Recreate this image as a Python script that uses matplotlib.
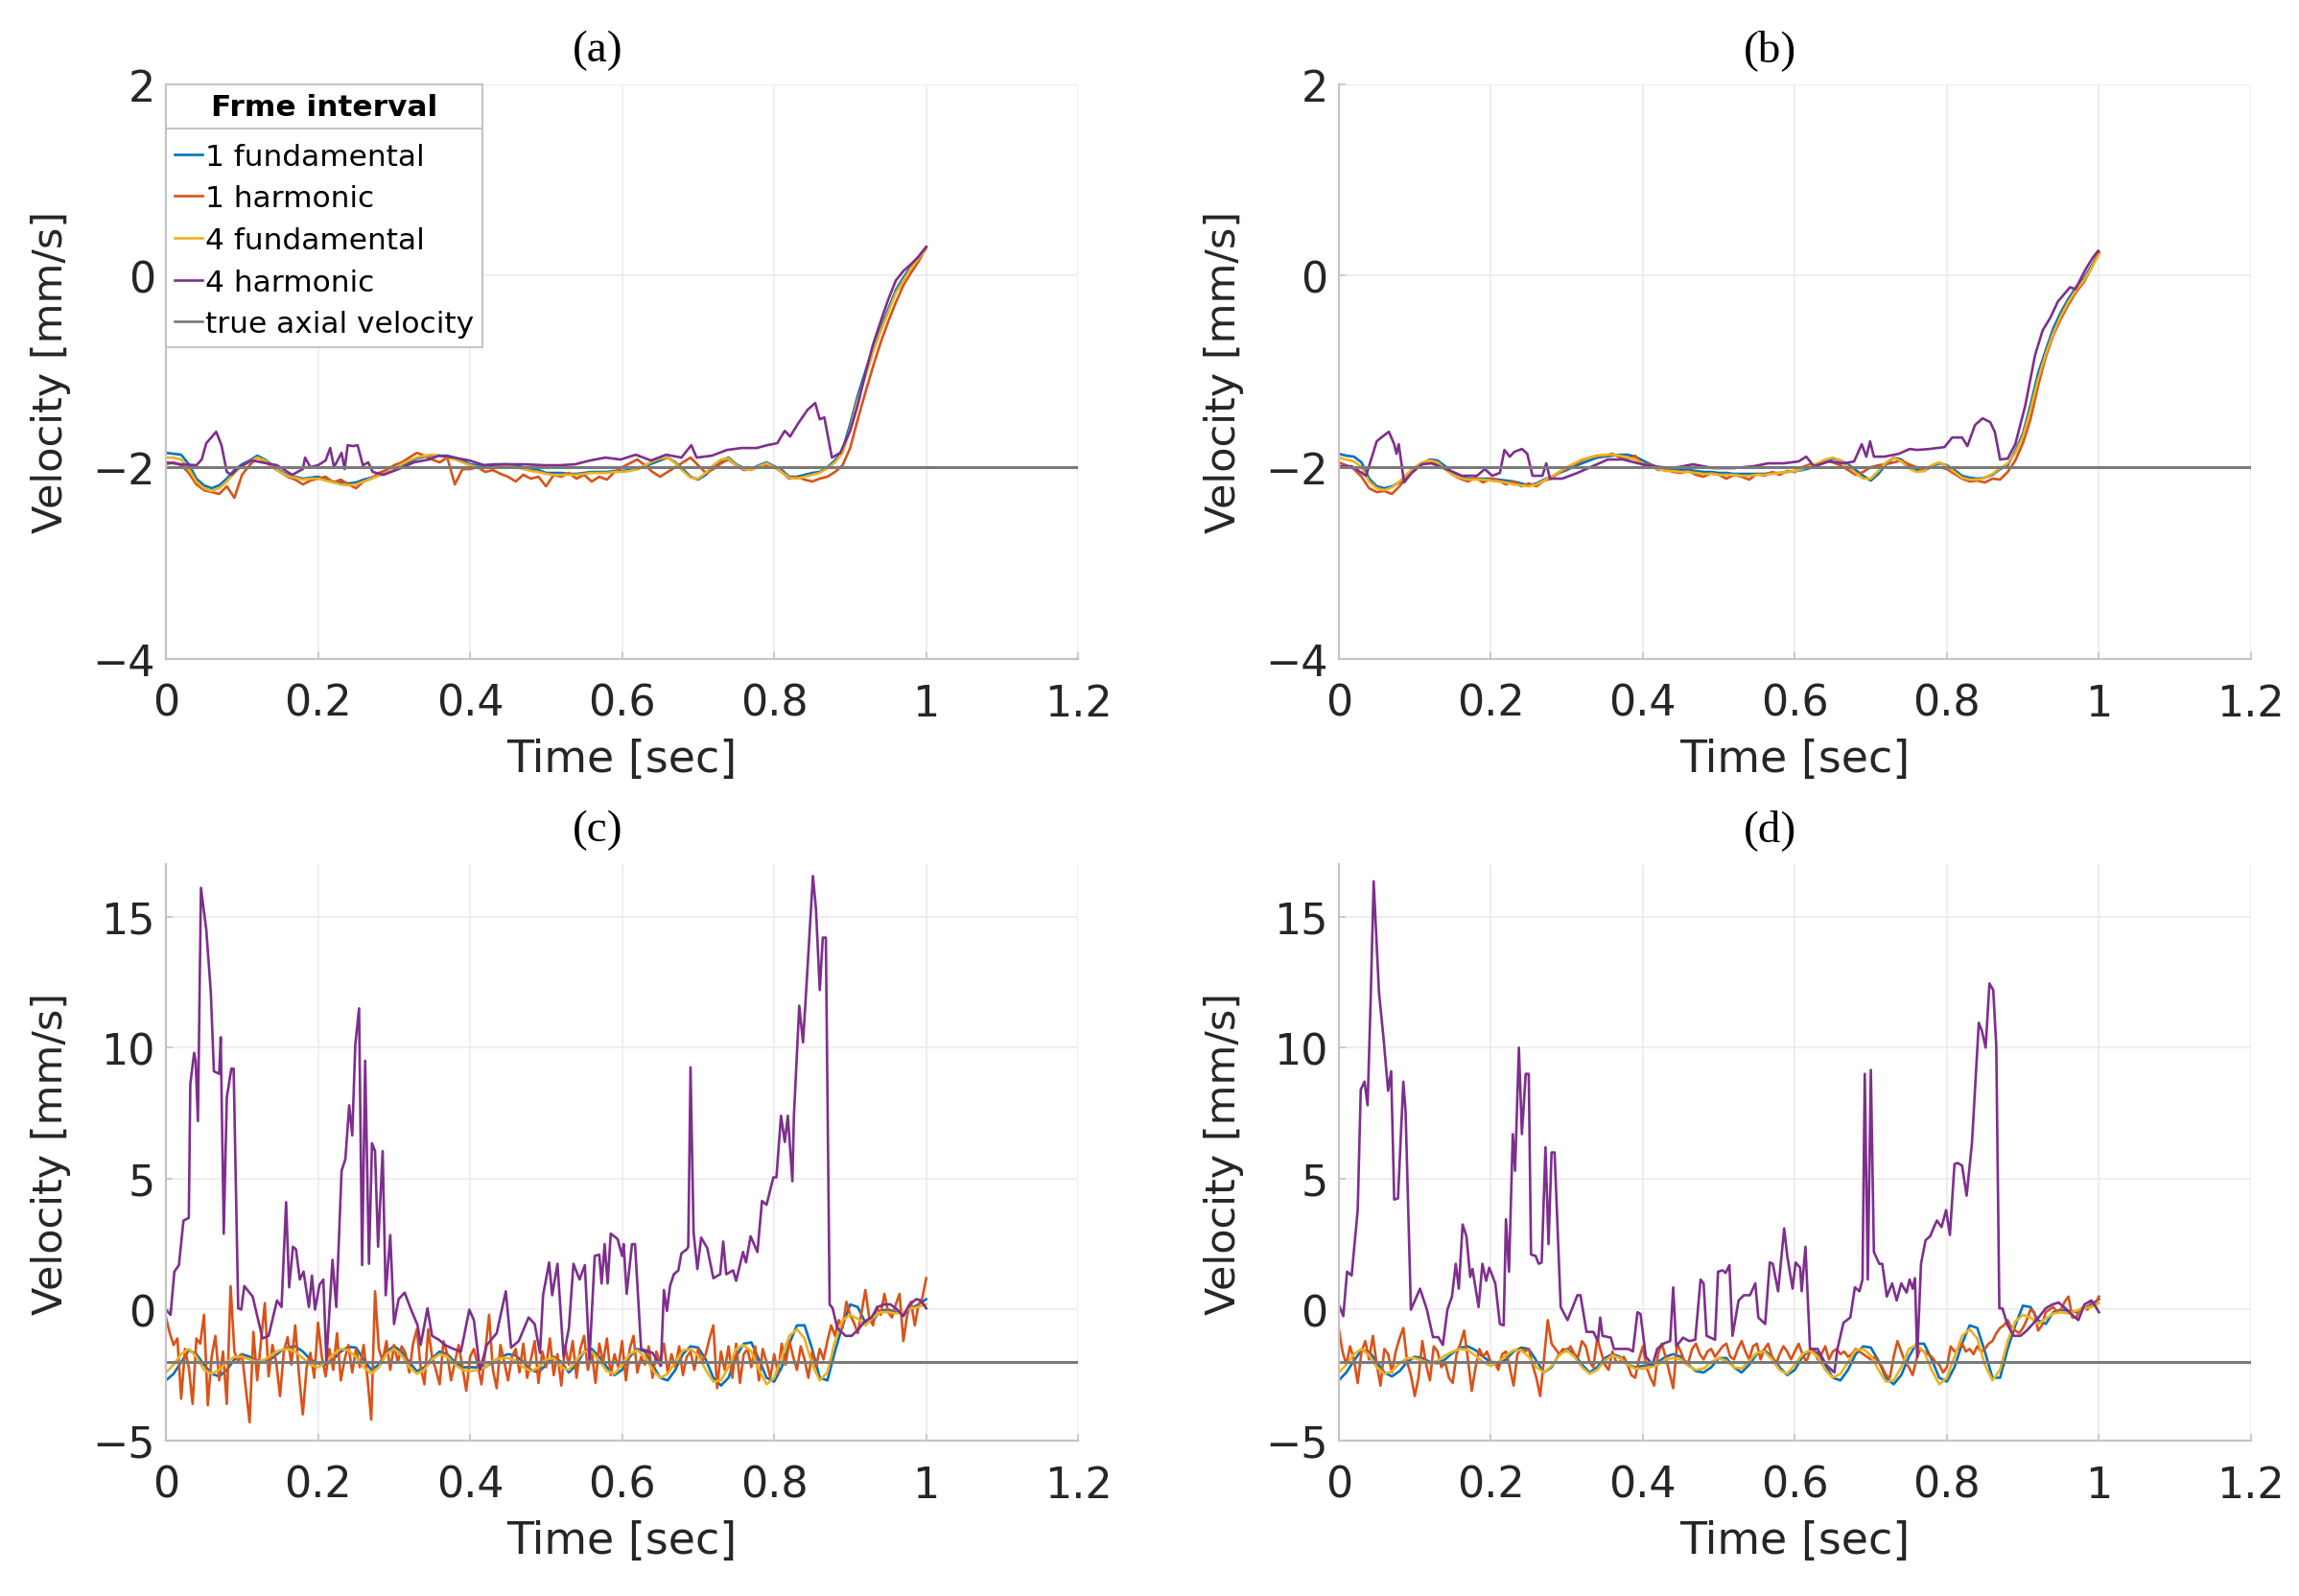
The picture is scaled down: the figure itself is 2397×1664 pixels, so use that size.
import numpy as np
import matplotlib
matplotlib.use("Agg")
import matplotlib.pyplot as plt
from matplotlib.lines import Line2D

plt.rcParams["font.family"] = ["DejaVu Sans"]

# ---------------- data ----------------
labels = ["1 fundamental", "1 harmonic", "4 fundamental", "4 harmonic", "true axial velocity"]
true_vel = -2.0
titles = ["(a)", "(b)", "(c)", "(d)"]

# Panel (a)
a_fund1 = [-1.85,-1.86,-1.87,-1.97,-2.12,-2.19,-2.22,-2.19,-2.12,-2.03,
 -1.97,-1.93,-1.88,-1.92,-1.98,-2.04,-2.08,-2.1,-2.12,-2.11,
 -2.1,-2.13,-2.15,-2.16,-2.17,-2.16,-2.13,-2.11,-2.08,-2.06,
 -2.03,-1.99,-1.95,-1.91,-1.89,-1.88,-1.88,-1.88,-1.9,-1.93,
 -1.97,-1.98,-1.98,-1.97,-1.97,-1.97,-1.98,-2.0,-2.02,-2.03,
 -2.06,-2.06,-2.06,-2.07,-2.07,-2.06,-2.05,-2.05,-2.05,-2.04,
 -2.04,-2.03,-2.02,-1.99,-1.96,-1.93,-1.9,-1.95,-2.02,-2.1,
 -2.13,-2.08,-2.0,-1.93,-1.9,-1.97,-2.01,-2.02,-1.98,-1.95,
 -1.99,-2.03,-2.1,-2.1,-2.08,-2.06,-2.05,-2.0,-1.93,-1.82,
 -1.55,-1.25,-1.0,-0.75,-0.55,-0.35,-0.15,-0.02,0.1,0.2,0.3]
a_harm1 = [-1.97,-1.95,-1.98,-2.06,-2.18,-2.24,-2.26,-2.28,-2.2,-2.32,
 -2.08,-1.98,-1.9,-1.94,-2.0,-2.05,-2.1,-2.13,-2.18,-2.14,
 -2.12,-2.1,-2.16,-2.13,-2.18,-2.22,-2.15,-2.12,-2.06,-2.03,
 -1.98,-1.95,-1.9,-1.85,-1.88,-1.92,-1.95,-1.9,-2.18,-2.02,
 -2.02,-2.0,-2.05,-2.03,-2.07,-2.1,-2.15,-2.08,-2.12,-2.1,
 -2.2,-2.08,-2.1,-2.06,-2.12,-2.08,-2.15,-2.1,-2.13,-2.05,
 -2.0,-1.96,-1.92,-1.98,-2.05,-2.1,-2.05,-2.0,-1.95,-1.9,
 -1.98,-2.06,-2.02,-1.96,-1.92,-1.98,-2.03,-2.02,-2.0,-1.98,
 -2.0,-2.05,-2.12,-2.1,-2.13,-2.15,-2.12,-2.1,-2.05,-1.98,
 -1.8,-1.5,-1.22,-0.95,-0.7,-0.48,-0.28,-0.1,0.03,0.15,0.3]
a_fund4 = [-1.9,-1.9,-1.92,-2.02,-2.15,-2.22,-2.25,-2.22,-2.15,-2.06,
 -1.99,-1.94,-1.9,-1.93,-1.99,-2.05,-2.09,-2.11,-2.13,-2.12,
 -2.12,-2.14,-2.16,-2.18,-2.19,-2.18,-2.15,-2.12,-2.09,-2.06,
 -2.02,-1.97,-1.93,-1.9,-1.88,-1.87,-1.88,-1.9,-1.92,-1.95,
 -1.98,-2.0,-2.0,-1.99,-1.99,-1.99,-2.0,-2.02,-2.04,-2.05,
 -2.07,-2.08,-2.08,-2.08,-2.08,-2.07,-2.06,-2.06,-2.06,-2.05,
 -2.05,-2.04,-2.02,-1.98,-1.94,-1.91,-1.9,-1.96,-2.04,-2.11,
 -2.12,-2.06,-1.98,-1.92,-1.91,-1.98,-2.02,-2.03,-1.99,-1.96,
 -2.0,-2.05,-2.11,-2.12,-2.1,-2.08,-2.06,-2.01,-1.95,-1.85,
 -1.6,-1.3,-1.05,-0.8,-0.58,-0.38,-0.18,-0.05,0.08,0.18,0.28]
a_harm4_t = [0,.02,.04,.047,.053,.066,.073,.08,.086,.096,.113,.126,.146,.166,.18,.183,.19,.2,.21,.216,
 .221,.231,.235,.239,.246,.252,.259,.266,.272,.286,.306,.326,.346,.359,.379,.399,.419,.445,.472,.498,
 .518,.538,.558,.578,.598,.618,.638,.658,.678,.691,.698,.718,.738,.757,.777,.791,.804,.814,.821,.831,
 .844,.854,.86,.866,.876,.887,.9,.91,.92,.93,.94,.95,.96,.97,.98,.99,1.0]
a_harm4_v = [-1.95,-1.97,-1.98,-1.92,-1.75,-1.63,-1.77,-2.05,-2.08,-2.0,-1.93,-1.95,-1.98,-2.08,-2.02,-1.9,-2.0,-1.98,-1.93,-1.8,
 -2.0,-1.85,-2.02,-1.77,-1.78,-1.77,-1.98,-1.95,-2.05,-2.08,-2.02,-1.95,-1.92,-1.88,-1.9,-1.93,-1.98,-1.97,-1.97,-1.98,
 -1.98,-1.97,-1.93,-1.9,-1.92,-1.87,-1.93,-1.87,-1.9,-1.77,-1.9,-1.88,-1.82,-1.8,-1.8,-1.77,-1.75,-1.62,-1.68,-1.55,
 -1.4,-1.33,-1.5,-1.48,-1.9,-1.85,-1.62,-1.35,-1.02,-0.72,-0.48,-0.25,-0.05,0.05,0.12,0.2,0.3]

# Panel (b)
b_fund1 = [-1.86,-1.88,-1.89,-1.95,-2.12,-2.2,-2.22,-2.2,-2.16,-2.08,
 -2.02,-1.97,-1.92,-1.93,-1.99,-2.06,-2.09,-2.12,-2.12,-2.12,
 -2.12,-2.13,-2.14,-2.15,-2.17,-2.19,-2.17,-2.13,-2.1,-2.06,
 -2.03,-1.99,-1.96,-1.93,-1.9,-1.89,-1.88,-1.87,-1.87,-1.89,
 -1.93,-1.97,-2.0,-2.02,-2.02,-2.03,-2.03,-2.04,-2.05,-2.05,
 -2.06,-2.06,-2.07,-2.07,-2.07,-2.07,-2.07,-2.06,-2.06,-2.05,
 -2.04,-2.03,-2.01,-1.98,-1.95,-1.91,-1.93,-1.97,-2.03,-2.09,
 -2.14,-2.07,-1.97,-1.9,-1.92,-1.99,-2.03,-2.04,-1.99,-1.96,
 -1.98,-2.03,-2.09,-2.11,-2.12,-2.11,-2.08,-2.02,-1.98,-1.83,
 -1.65,-1.35,-1.02,-0.78,-0.55,-0.38,-0.24,-0.12,-0.03,0.1,0.24]
b_harm1 = [-1.95,-1.98,-2.02,-2.1,-2.22,-2.26,-2.25,-2.28,-2.2,-2.1,
 -2.03,-1.96,-1.92,-1.98,-2.02,-2.08,-2.12,-2.15,-2.11,-2.16,
 -2.12,-2.14,-2.18,-2.15,-2.2,-2.17,-2.2,-2.14,-2.12,-2.05,
 -2.02,-1.97,-1.93,-1.9,-1.88,-1.88,-1.86,-1.9,-1.92,-1.88,
 -1.98,-1.97,-2.03,-2.02,-2.05,-2.06,-2.04,-2.08,-2.1,-2.06,
 -2.08,-2.12,-2.08,-2.1,-2.13,-2.07,-2.09,-2.05,-2.08,-2.04,
 -2.05,-2.0,-1.97,-1.98,-1.93,-1.95,-1.98,-2.03,-2.08,-2.05,
 -2.0,-1.98,-1.97,-1.95,-1.93,-1.97,-2.0,-2.03,-2.0,-2.0,
 -2.02,-2.07,-2.12,-2.15,-2.14,-2.16,-2.12,-2.13,-2.05,-1.93,
 -1.75,-1.5,-1.15,-0.85,-0.62,-0.45,-0.3,-0.17,-0.07,0.08,0.25]
b_fund4 = [-1.9,-1.92,-1.94,-2.0,-2.15,-2.22,-2.24,-2.21,-2.15,-2.07,
 -2.0,-1.95,-1.93,-1.95,-2.02,-2.08,-2.11,-2.13,-2.13,-2.13,
 -2.14,-2.15,-2.16,-2.18,-2.19,-2.2,-2.18,-2.14,-2.1,-2.05,
 -2.0,-1.96,-1.92,-1.9,-1.88,-1.87,-1.87,-1.88,-1.9,-1.92,
 -1.96,-1.99,-2.02,-2.04,-2.04,-2.05,-2.05,-2.06,-2.07,-2.07,
 -2.08,-2.08,-2.08,-2.09,-2.09,-2.08,-2.08,-2.07,-2.06,-2.05,
 -2.04,-2.02,-1.99,-1.96,-1.92,-1.9,-1.93,-1.99,-2.06,-2.12,
 -2.12,-2.04,-1.95,-1.9,-1.94,-2.01,-2.05,-2.04,-1.98,-1.95,
 -1.99,-2.05,-2.11,-2.13,-2.13,-2.11,-2.07,-2.01,-1.96,-1.85,
 -1.68,-1.4,-1.08,-0.82,-0.6,-0.42,-0.27,-0.15,-0.05,0.08,0.22]
b_harm4_t = [0,.017,.036,.05,.056,.066,.073,.076,.079,.086,.096,.109,.122,.142,.162,.182,.192,.202,.212,.218,
 .225,.231,.241,.248,.255,.268,.273,.278,.294,.314,.334,.354,.374,.394,.413,.44,.466,.493,.519,.546,
 .565,.585,.605,.615,.625,.645,.665,.678,.688,.694,.699,.704,.718,.737,.751,.761,.777,.797,.807,.82,
 .827,.837,.847,.857,.863,.87,.88,.89,.903,.916,.926,.936,.946,.962,.969,.982,.992,.999]
b_harm4_v = [-1.99,-1.99,-2.09,-1.73,-1.69,-1.63,-1.76,-1.86,-1.76,-2.16,-2.06,-1.97,-1.96,-2.02,-2.09,-2.09,-2.02,-2.09,-2.06,-1.82,
 -1.89,-1.84,-1.81,-1.86,-2.09,-2.09,-1.96,-2.12,-2.12,-2.06,-1.99,-1.92,-1.92,-1.96,-1.99,-2.01,-1.97,-2.01,-2.01,-1.99,
 -1.96,-1.96,-1.94,-1.89,-1.99,-1.94,-1.96,-1.94,-1.76,-1.89,-1.73,-1.89,-1.89,-1.86,-1.81,-1.82,-1.81,-1.79,-1.69,-1.69,
 -1.78,-1.56,-1.49,-1.53,-1.63,-1.92,-1.91,-1.76,-1.36,-0.83,-0.57,-0.44,-0.27,-0.12,-0.14,0.06,0.19,0.26]

# Panel (c)
c_fund1 = [-2.7,-2.45,-2.0,-1.55,-1.7,-2.1,-2.45,-2.55,-2.3,-1.9,
 -1.7,-1.8,-1.95,-2.0,-1.85,-1.6,-1.45,-1.4,-1.6,-1.9,
 -2.05,-2.1,-1.9,-1.6,-1.42,-1.45,-1.9,-2.3,-2.1,-1.6,
 -1.4,-1.6,-2.0,-2.35,-2.2,-1.85,-1.6,-1.7,-2.0,-2.2,
 -2.2,-2.2,-2.2,-2.0,-1.8,-1.7,-1.75,-2.0,-2.3,-2.4,
 -2.1,-1.8,-2.0,-2.4,-2.1,-1.6,-1.5,-1.8,-2.2,-2.5,
 -2.3,-1.8,-1.5,-1.6,-2.1,-2.6,-2.7,-2.3,-1.7,-1.4,
 -1.45,-1.9,-2.6,-2.9,-2.6,-1.8,-1.3,-1.25,-1.9,-2.6,
 -2.75,-2.2,-1.3,-0.6,-0.6,-1.5,-2.6,-2.7,-1.6,-0.6,
 0.2,0.1,-0.5,-0.4,-0.05,0.0,-0.1,-0.15,0.05,0.2,0.4]
c_fund4 = [-2.4,-2.1,-1.7,-1.5,-1.8,-2.3,-2.45,-2.3,-2.0,-1.8,
 -1.8,-1.9,-2.0,-1.9,-1.7,-1.55,-1.5,-1.6,-1.85,-2.1,
 -2.2,-2.0,-1.7,-1.5,-1.55,-1.8,-2.2,-2.45,-2.2,-1.7,
 -1.5,-1.75,-2.2,-2.45,-2.3,-1.9,-1.7,-1.8,-2.1,-2.3,
 -2.35,-2.3,-2.2,-1.95,-1.85,-1.85,-1.95,-2.2,-2.35,-2.2,
 -1.9,-1.85,-2.2,-2.3,-1.9,-1.6,-1.6,-1.95,-2.35,-2.45,
 -2.1,-1.7,-1.55,-1.8,-2.3,-2.6,-2.45,-2.0,-1.55,-1.5,
 -1.75,-2.3,-2.75,-2.7,-2.2,-1.5,-1.35,-1.6,-2.3,-2.85,
 -2.6,-1.8,-1.0,-0.75,-1.1,-2.1,-2.7,-2.4,-1.2,-0.4,
 -0.2,-0.35,-0.6,-0.3,-0.1,-0.1,-0.15,-0.1,0.05,0.1,0.2]
c_harm1 = [-0.3,-0.9,-1.35,-1.1,-3.4,-1.5,-2.2,-3.6,-1.1,-1.3,
 -0.2,-3.65,-1.8,-1.0,-2.7,-1.6,-3.6,0.9,-1.6,-2.0,
 -1.7,-3.0,-4.3,-0.85,-2.7,-1.2,0.25,-2.55,-1.35,-2.0,
 -3.3,-1.6,-1.05,-2.1,-0.6,-2.5,-4.0,-2.2,-1.65,-2.6,
 -0.5,-1.8,-2.55,-1.5,-2.3,-0.9,-2.7,-1.9,-1.35,-2.4,
 -1.5,-2.2,-1.35,-2.6,-4.2,0.7,-1.5,-1.95,-1.2,-2.3,
 -1.35,-2.0,-1.4,-1.65,-2.4,-1.3,-0.75,-2.2,-2.85,-0.75,
 -1.8,-2.3,-2.85,-1.2,-1.7,-2.7,-2.0,-1.35,-2.2,-3.1,
 -1.8,-1.5,-2.1,-2.85,-1.6,-0.2,-2.3,-3.0,-1.35,-2.0,
 -2.7,-1.8,-1.5,-2.4,-1.3,-2.6,-1.9,-1.2,-2.8,-1.6,
 -2.2,-1.1,-2.5,-1.7,-2.9,-1.4,-2.1,-1.2,-2.6,-1.5,
 -1.0,-2.3,-1.6,-2.8,-1.3,-2.0,-1.1,-2.5,-1.7,-2.2,
 -1.2,-2.7,-1.5,-1.0,-2.4,-1.8,-2.1,-1.4,-2.6,-1.6,
 -2.0,-1.3,-2.4,-1.7,-2.2,-1.4,-2.5,-1.8,-1.6,-2.3,
 -1.5,-2.0,-1.7,-1.1,-0.6,-3.0,-1.6,-2.3,-1.4,-2.6,
 -1.3,-2.8,-1.7,-1.5,-2.2,-1.4,-2.7,-1.5,-2.0,-2.6,
 -1.7,-2.4,-1.3,-2.1,-1.2,-1.8,-2.3,-1.4,-1.9,-2.6,
 -1.6,-2.2,-1.5,-1.9,-1.2,-0.6,-1.0,-0.4,-0.7,0.3,
 -0.2,-0.5,-0.9,-0.1,0.75,-0.3,-0.6,0.1,-0.2,0.6,
 -0.1,-0.3,0.2,0.6,-1.2,-0.2,0.3,-0.6,0.2,0.45,1.2]
c_harm4_t = [0,.006,.011,.017,.023,.03,.032,.037,.039,.042,.046,.053,.059,.063,.07,.072,.076,.08,.086,.089,
 .095,.099,.103,.114,.127,.135,.146,.152,.158,.162,.167,.171,.176,.181,.188,.192,.196,.202,.207,.211,
 .219,.224,.231,.236,.241,.245,.249,.254,.258,.262,.267,.271,.275,.279,.285,.289,.295,.3,.306,.314,
 .321,.331,.335,.344,.35,.359,.367,.378,.388,.399,.405,.413,.422,.435,.447,.454,.464,.477,.485,.492,
 .496,.504,.508,.515,.523,.53,.536,.544,.551,.557,.564,.57,.573,.577,.581,.585,.594,.6,.602,.606,
 .613,.617,.625,.64,.651,.655,.659,.663,.668,.674,.678,.685,.687,.69,.694,.699,.704,.712,.72,.729,
 .733,.737,.746,.75,.759,.763,.769,.778,.784,.79,.799,.803,.809,.814,.818,.824,.826,.833,.838,.843,
 .851,.855,.86,.864,.868,.873,.877,.883,.894,.902,.911,.919,.928,.936,.945,.953,.962,.97,.978,.987,
 .993,1.0]
c_harm4_v = [0.0,-0.2,1.45,1.7,3.4,3.5,8.6,9.8,9.5,7.2,16.1,14.5,12.1,9.1,9.0,10.4,2.9,8.1,9.2,9.2,
 0.05,0.0,0.9,0.5,-1.1,-1.0,0.35,0.1,4.1,0.85,2.4,2.3,1.15,1.45,0.1,1.3,0.0,0.95,1.15,-1.95,
 1.9,0.1,5.3,5.75,7.8,6.65,10.1,11.5,1.7,9.5,1.75,6.35,6.05,2.4,6.05,0.55,2.85,-0.55,0.4,0.65,
 0.1,-0.6,-1.35,0.05,-1.0,-1.15,-1.35,-1.5,-1.6,0.0,-0.4,-2.3,-1.35,-0.9,0.7,-1.45,-1.2,-0.3,-0.55,-1.65,
 0.55,1.8,0.55,1.75,-1.8,-0.7,1.75,1.15,1.7,-1.9,2.05,2.1,1.0,2.5,1.0,2.9,2.7,2.05,2.5,0.6,
 2.5,2.5,-1.5,-1.65,-2.15,0.75,-0.05,0.9,1.35,1.5,2.15,2.3,2.4,9.25,2.95,1.55,2.75,2.35,1.2,1.35,
 2.6,1.35,1.5,1.1,2.2,1.8,2.8,2.2,4.15,4.0,5.05,5.05,7.4,6.4,7.4,4.9,7.4,11.6,10.2,12.6,
 16.55,15.3,12.2,14.2,14.2,0.2,0.05,-0.7,-1.0,-1.0,-0.75,-0.45,-0.3,0.1,0.2,0.2,0.0,-0.25,0.2,0.4,
 0.35,0.05]

# Panel (d)
d_fund1 = [-2.7,-2.4,-1.95,-1.55,-1.6,-2.0,-2.4,-2.55,-2.35,-2.0,
 -1.8,-1.85,-2.0,-2.05,-1.9,-1.65,-1.45,-1.4,-1.55,-1.8,
 -2.0,-2.1,-1.9,-1.6,-1.45,-1.5,-1.95,-2.4,-2.2,-1.7,
 -1.5,-1.7,-2.1,-2.4,-2.2,-1.85,-1.7,-1.8,-2.1,-2.2,
 -2.15,-2.1,-2.0,-1.8,-1.7,-1.8,-2.1,-2.35,-2.4,-2.2,
 -1.85,-1.85,-2.2,-2.4,-2.1,-1.7,-1.55,-1.8,-2.2,-2.5,
 -2.3,-1.8,-1.55,-1.65,-2.1,-2.6,-2.7,-2.3,-1.7,-1.4,
 -1.45,-1.95,-2.6,-2.85,-2.5,-1.8,-1.3,-1.3,-1.9,-2.6,
 -2.75,-2.2,-1.3,-0.6,-0.7,-1.6,-2.6,-2.6,-1.5,-0.6,
 0.15,0.1,-0.4,-0.55,-0.1,0.0,-0.05,-0.1,0.05,0.2,0.4]
d_fund4 = [-2.4,-2.1,-1.7,-1.5,-1.75,-2.2,-2.45,-2.35,-2.05,-1.85,
 -1.85,-1.95,-2.05,-1.95,-1.75,-1.6,-1.5,-1.55,-1.75,-2.0,
 -2.15,-2.0,-1.75,-1.55,-1.55,-1.8,-2.2,-2.4,-2.15,-1.75,
 -1.55,-1.8,-2.2,-2.45,-2.3,-1.95,-1.75,-1.85,-2.1,-2.25,
 -2.25,-2.2,-2.1,-1.9,-1.85,-1.9,-2.15,-2.3,-2.25,-2.0,
 -1.85,-1.95,-2.2,-2.25,-1.95,-1.65,-1.6,-1.9,-2.3,-2.45,
 -2.1,-1.7,-1.55,-1.8,-2.3,-2.6,-2.45,-2.0,-1.55,-1.5,
 -1.75,-2.3,-2.75,-2.7,-2.2,-1.5,-1.35,-1.6,-2.3,-2.85,
 -2.6,-1.8,-1.0,-0.75,-1.1,-2.1,-2.7,-2.3,-1.2,-0.45,
 -0.2,-0.3,-0.55,-0.35,-0.15,-0.1,-0.15,-0.05,0.05,0.1,0.25]
d_harm1 = [-0.7,-1.6,-2.1,-1.4,-1.9,-2.8,-1.6,-1.2,-1.9,-1.0,
 -2.1,-2.9,-1.5,-1.7,-2.4,-1.6,-1.1,-0.7,-2.0,-2.5,
 -3.3,-2.6,-1.2,-2.1,-2.7,-1.4,-1.6,-2.2,-2.0,-2.6,
 -2.8,-1.7,-1.3,-0.8,-1.9,-3.1,-2.2,-1.5,-1.8,-1.6,
 -2.0,-2.0,-2.3,-1.7,-1.6,-2.2,-2.9,-1.7,-1.5,-1.6,
 -1.5,-2.1,-2.6,-3.3,-1.9,-0.4,-1.3,-1.5,-1.7,-1.5,
 -1.6,-1.4,-1.7,-1.8,-1.2,-1.4,-2.0,-2.2,-1.1,-1.6,
 -2.1,-2.3,-1.6,-2.0,-2.0,-1.8,-2.1,-2.5,-2.6,-1.9,
 -1.4,-2.2,-2.6,-2.9,-1.7,-1.3,-1.8,-2.4,-3.0,-1.3,
 -1.6,-2.0,-2.0,-1.5,-1.3,-1.7,-1.9,-1.6,-1.5,-1.8,
 -1.6,-1.4,-1.3,-1.8,-1.9,-1.5,-1.2,-1.6,-1.9,-1.4,
 -1.3,-1.9,-1.5,-1.3,-1.8,-2.1,-1.7,-1.4,-1.6,-1.9,
 -1.6,-1.3,-1.7,-2.0,-1.6,-1.5,-1.9,-1.7,-1.4,-1.9,
 -1.6,-1.5,-1.7,-1.6,-1.8,-1.7,-1.5,-1.6,-1.7,-1.8,
 -1.9,-1.8,-2.0,-2.2,-2.5,-2.6,-1.8,-1.2,-1.6,-2.0,
 -2.2,-2.5,-1.9,-1.5,-1.6,-1.7,-1.8,-2.0,-2.1,-2.4,
 -2.2,-1.4,-1.6,-1.5,-1.3,-1.6,-1.5,-1.7,-1.4,-1.6,
 -1.5,-1.3,-1.2,-0.9,-0.7,-0.6,-0.4,-0.7,-0.8,-0.9,
 -0.7,-0.4,0.0,-0.1,-0.8,-0.6,-0.1,0.0,0.1,-0.1,
 0.0,0.3,0.5,-0.3,-0.3,0.0,0.1,0.0,0.3,0.2,0.5]
d_harm4_t = [0,.006,.011,.017,.025,.029,.034,.038,.042,.046,.053,.059,.063,.065,.069,.073,.078,.085,.088,.095,
 .101,.107,.116,.124,.131,.137,.143,.149,.154,.158,.163,.168,.173,.176,.184,.189,.194,.198,.206,.212,
 .217,.22,.224,.229,.232,.237,.241,.246,.25,.253,.259,.263,.267,.272,.276,.28,.284,.292,.301,.314,
 .318,.326,.335,.341,.344,.347,.358,.362,.368,.381,.387,.393,.397,.404,.413,.419,.427,.436,.44,.444,
 .453,.461,.469,.476,.48,.484,.495,.499,.505,.509,.514,.518,.526,.533,.541,.548,.552,.561,.567,.571,
 .578,.586,.59,.597,.601,.607,.609,.614,.62,.63,.641,.652,.656,.664,.673,.679,.685,.689,.692,.696,
 .7,.704,.711,.715,.721,.728,.734,.74,.747,.751,.755,.758,.761,.766,.772,.778,.783,.787,.793,.799,
 .804,.81,.814,.82,.826,.833,.842,.846,.851,.856,.861,.865,.869,.873,.88,.888,.897,.905,.913,.922,
 .93,.939,.947,.956,.964,.973,.981,.99,.996,1.0]
d_harm4_v = [0.2,-0.25,1.45,1.3,3.8,8.4,8.7,7.8,11.8,16.35,12.1,10.35,9.0,8.35,9.1,4.2,4.25,8.7,7.55,0.0,
 0.4,0.8,0.0,-1.05,-1.05,-1.35,0.0,0.5,1.75,0.8,3.25,2.8,1.25,1.55,0.1,1.75,1.1,1.6,1.0,-0.55,
 -0.6,3.45,1.45,6.7,5.3,10.0,6.7,9.0,9.0,2.1,2.05,1.75,1.8,6.2,2.5,6.0,6.0,0.1,-0.4,0.55,
 0.55,-0.85,-0.85,-1.2,-0.3,-1.0,-1.07,-1.5,-1.5,-1.5,-1.6,-0.1,-0.17,-1.8,-2.1,-1.5,-1.3,-1.2,0.85,-1.4,
 -1.07,-1.2,-1.15,1.15,1.0,-1.0,-1.15,1.45,1.5,1.4,1.7,-1.0,0.35,0.55,0.55,1.0,-0.3,-0.55,1.8,1.75,
 0.7,3.1,2.05,0.8,1.8,1.6,0.7,2.4,-1.5,-1.5,-2.1,-2.4,-1.5,-0.5,-0.3,0.85,0.7,1.15,9.0,1.15,
 9.15,2.2,1.75,1.75,0.5,1.0,0.35,1.0,0.65,1.15,0.8,1.2,-1.8,1.75,2.65,2.8,3.15,3.4,3.15,3.8,
 2.85,5.55,5.6,5.5,4.35,6.35,10.95,10.65,10.0,12.45,12.2,10.05,0.05,0.05,-0.6,-1.0,-1.0,-0.8,-0.55,-0.25,
 0.05,0.2,0.27,0.05,-0.18,-0.4,0.2,0.35,0.1,-0.1]

panels = [
    dict(f1=a_fund1, h1=a_harm1, f4=a_fund4, h4t=a_harm4_t, h4v=a_harm4_v,
         ylim=(-4, 2), yticks=[-4, -2, 0, 2]),
    dict(f1=b_fund1, h1=b_harm1, f4=b_fund4, h4t=b_harm4_t, h4v=b_harm4_v,
         ylim=(-4, 2), yticks=[-4, -2, 0, 2]),
    dict(f1=c_fund1, h1=c_harm1, f4=c_fund4, h4t=c_harm4_t, h4v=c_harm4_v,
         ylim=(-5, 17), yticks=[-5, 0, 5, 10, 15]),
    dict(f1=d_fund1, h1=d_harm1, f4=d_fund4, h4t=d_harm4_t, h4v=d_harm4_v,
         ylim=(-5, 17), yticks=[-5, 0, 5, 10, 15]),
]
xticks = [0, 0.2, 0.4, 0.6, 0.8, 1, 1.2]
xtick_labels = ["0", "0.2", "0.4", "0.6", "0.8", "1", "1.2"]

# ---------------- style ----------------
C_BLUE = "#0072BD"
C_ORANGE = "#D95319"
C_YELLOW = "#EDB120"
C_PURPLE = "#7E2F8E"
C_GRAY = "#7a7a7a"
LW = 1.9

W, H = 2397, 1665
fig = plt.figure(figsize=(W / 100, H / 100), dpi=100)
fig.patch.set_facecolor("white")

positions = [
    [0.0722, 0.587, 0.3968, 0.3596],
    [0.5823, 0.587, 0.3968, 0.3596],
    [0.0722, 0.0973, 0.3968, 0.3609],
    [0.5823, 0.0973, 0.3968, 0.3609],
]

for i, (p, pos) in enumerate(zip(panels, positions)):
    ax = fig.add_axes(pos)
    t1 = np.linspace(0, 1, len(p["f1"]))
    th = np.linspace(0, 1, len(p["h1"]))
    t4 = np.linspace(0, 1, len(p["f4"]))
    l1, = ax.plot(t1, p["f1"], color=C_BLUE, lw=LW)
    l2, = ax.plot(th, p["h1"], color=C_ORANGE, lw=LW)
    l3, = ax.plot(t4, p["f4"], color=C_YELLOW, lw=LW)
    l4, = ax.plot(p["h4t"], p["h4v"], color=C_PURPLE, lw=LW)
    l5 = ax.axhline(true_vel, color=C_GRAY, lw=2.2)

    ax.set_xlim(0, 1.2)
    ax.set_ylim(*p["ylim"])
    ax.set_xticks(xticks)
    ax.set_xticklabels(xtick_labels)
    ax.set_yticks(p["yticks"])
    ax.grid(True, color="#ebebeb", lw=1.2)
    ax.set_axisbelow(True)
    for s in ["top", "right"]:
        ax.spines[s].set_visible(False)
    for s in ["left", "bottom"]:
        ax.spines[s].set_color("#c4c4c4")
        ax.spines[s].set_linewidth(1.6)
    ax.tick_params(direction="in", length=5, width=1.2, color="#c4c4c4",
                   labelsize=32, labelcolor="#262626")
    ax.tick_params(axis="x", pad=18)
    ax.tick_params(axis="y", pad=8)
    ax.set_xlabel("Time [sec]", fontsize=33, color="#262626", labelpad=10)
    ax.set_ylabel("Velocity [mm/s]", fontsize=31, color="#262626", labelpad=16)
    ax.set_title(titles[i], fontsize=34, family="Liberation Serif", pad=18,
                 x=0.473)

    if i == 0:
        leg = ax.legend([l1, l2, l3, l4, l5], labels, loc="upper left",
                        bbox_to_anchor=(0.0, 1.0), borderaxespad=0.0,
                        fontsize=22.5, title="Frme interval",
                        title_fontproperties={"weight": "bold", "size": 22.5},
                        handlelength=0.9, handletextpad=0.1, borderpad=0.3,
                        labelspacing=0.47, fancybox=False, framealpha=1.0,
                        edgecolor="#c4c4c4")
        leg.get_frame().set_linewidth(1.5)
        leg._legend_box.sep = 16
        for ln in leg.get_lines():
            ln.set_linewidth(1.9)
        legend_ax = ax

# separator line under legend title
fig.canvas.draw()
leg = legend_ax.get_legend()
tb = leg.get_title().get_window_extent()
fb = leg.get_frame().get_window_extent()
ysep = tb.y0 - 8
inv = fig.transFigure.inverted()
(x0, y0) = inv.transform((fb.x0, ysep))
(x1, _) = inv.transform((fb.x1, ysep))
fig.add_artist(Line2D([x0, x1], [y0, y0], transform=fig.transFigure,
                      color="#c4c4c4", lw=1.5, zorder=10))

fig.savefig("out.png", dpi=100)
